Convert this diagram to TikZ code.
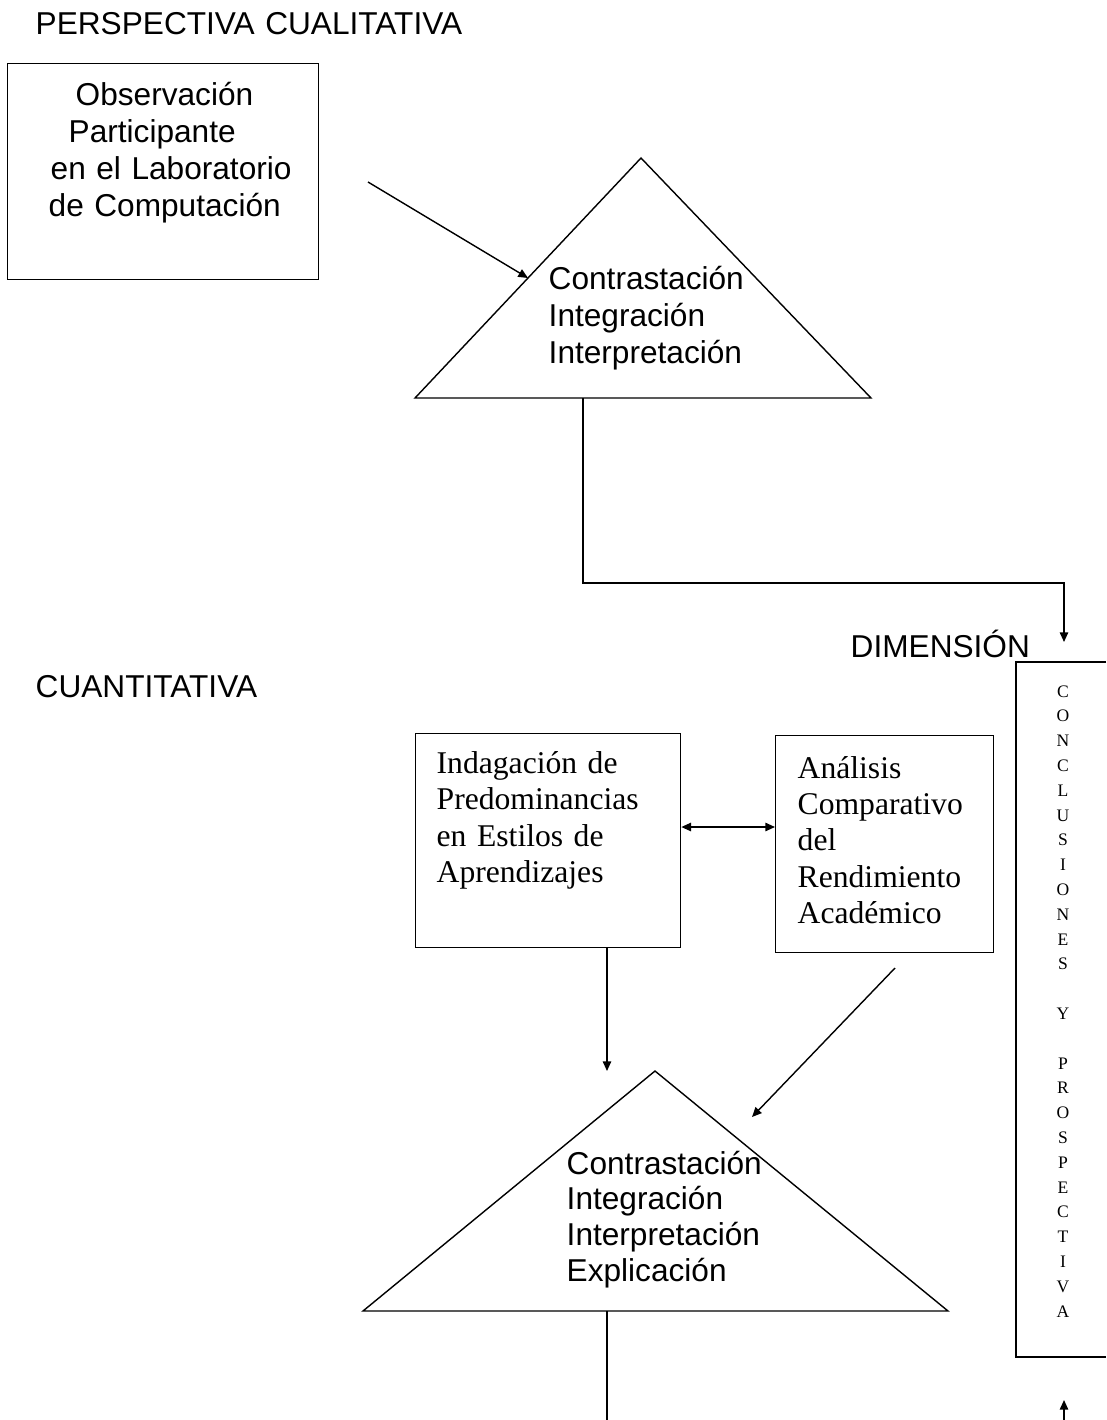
\documentclass[tikz,border=0pt]{standalone}
\usepackage{fontspec}
\setmainfont{Liberation Serif}
\setsansfont{Liberation Sans}
\usetikzlibrary{arrows.meta,calc}
\tikzset{
	sanstxt/.style={font=\sffamily\fontsize{18}{21.2}\selectfont, anchor=base west, inner sep=0pt, text width=9cm, align=left},
	seriftxt/.style={font=\rmfamily\fontsize{18}{20.8}\selectfont, anchor=base west, inner sep=0pt, text width=6cm, align=left},
	letter/.style={font=\rmfamily\fontsize{10}{12}\selectfont, anchor=base, inner sep=0pt},
	box/.style={draw, inner sep=0pt, anchor=north west},
}
\begin{document}
\begin{tikzpicture}[x=0.02cm, y=-0.02cm, line width=0.8pt, >={Triangle[length=5.5pt,width=4.8pt]}, line join=miter]
	\useasboundingbox (0,0) rectangle (1106,1420);
	% bloque cualitativo
	\node[sanstxt] (tcual) at (35,34) {PERSPECTIVA CUALITATIVA};
	\node[box, minimum width=6.22cm, minimum height=4.32cm] (obs) at (7,63) {};
	\node[sanstxt] (tobs) at (48,105) {\hspace*{0.54cm}Observación\\\hspace*{0.4cm}Participante\\\hspace*{0.04cm}en el Laboratorio\\de Computación};
	\coordinate (t1a) at (641,158); \coordinate (t1b) at (415,398); \coordinate (t1c) at (871,398);
	\draw (t1a) -- (t1b) -- (t1c) -- cycle;
	\node[sanstxt] (tt1) at (548,289) {Contrastación\\Integración\\Interpretación};
	\coordinate (p1) at (368,182);
	\draw[->] (p1) -- ($(t1a)!0.5!(t1b)$);
	\coordinate (k1) at (1064,642);
	\draw[->] (t1b -| 583,0) |- (k1 |- 0,583) -- (k1);
	\node[sanstxt] (tdim) at (850,657) {DIMENSIÓN};
	% bloque cuantitativo
	\node[sanstxt] (tcuan) at (35,697) {CUANTITATIVA};
	\node[box, minimum width=5.3cm, minimum height=4.28cm] (ind) at (415,733) {};
	\node[seriftxt] (tind) at (436,773) {Indagación de\\Predominancias\\en Estilos de\\Aprendizajes};
	\node[box, minimum width=4.36cm, minimum height=4.34cm] (ana) at (775,735) {};
	\node[seriftxt, font=\rmfamily\fontsize{18}{20.7}\selectfont] (tana) at (797,778) {Análisis\\Comparativo\\del\\Rendimiento\\Académico};
	\draw[<->] (ind.east |- 0,827) -- (ana.west |- 0,827);
	\coordinate (t2a) at (655,1071); \coordinate (t2b) at (363,1311); \coordinate (t2c) at (948,1311);
	\draw (t2a) -- (t2b) -- (t2c) -- cycle;
	\node[sanstxt, font=\sffamily\fontsize{18}{20.4}\selectfont] (tt2) at (566,1174) {Contrastación\\Integración\\Interpretación\\Explicación};
	\coordinate (d2) at (607,1071);
	\draw[->] (ind.south -| d2) -- (d2);
	\coordinate (p3) at (895,968); \coordinate (d3) at (752,1117);
	\draw[->] (p3) -- (d3);
	\draw (t2b -| 607,0) -- (607,1420);
	% conclusiones
	\coordinate (c1) at (1016,662); \coordinate (c2) at (1016,1357);
	\draw (1106,662) -- (c1) -- (c2) -- (1106,1357);
	\foreach \l [count=\i] in {C,O,N,C,L,U,S,I,O,N,E,S,{},Y,{},P,R,O,S,P,E,C,T,I,V,A}
		\node[letter] (l\i) at (1063,{697+24.8*(\i-1)}) {\l};
	\coordinate (k2) at (1064,1400);
	\draw[->] (k2 |- 0,1420) -- (k2);
\end{tikzpicture}
\end{document}
